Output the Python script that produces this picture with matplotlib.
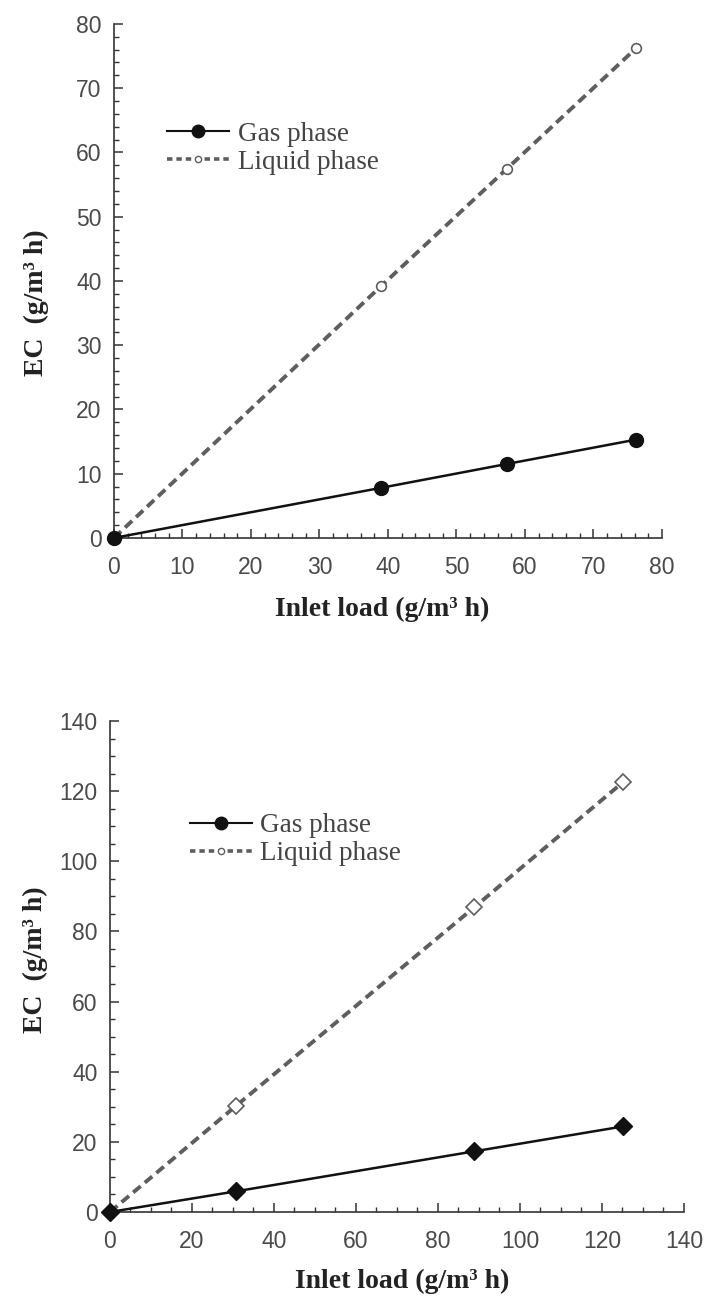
"""
Gas phase vs Liquid phase — EC against inlet load (two loading series)
"""

import matplotlib
matplotlib.use('Agg')
import matplotlib.pyplot as plt
from matplotlib.lines import Line2D
from matplotlib.ticker import MultipleLocator

# データ（上段）
TOP_INLET = [0, 39, 57.3, 76.2]
TOP_GAS_EC = [0, 7.8, 11.5, 15.3]
TOP_LIQUID_EC = [0, 39.2, 57.4, 76.2]

# データ（下段）
BOT_INLET = [0, 30.8, 88.9, 125.2]
BOT_GAS_EC = [0, 5.9, 17.3, 24.4]
BOT_LIQUID_EC = [0, 30.3, 86.9, 122.6]

LABELS = ['Gas phase', 'Liquid phase']
X_LABEL = 'Inlet load (g/m³ h)'
Y_LABEL = 'EC  (g/m³ h)'

GAS_COLOR = '#111111'
LIQUID_COLOR = '#5e5e5e'
AXIS_COLOR = '#333333'
TICK_FONT = ['Liberation Sans Narrow', 'Liberation Sans', 'DejaVu Sans']
SERIF_FONT = ['Liberation Serif', 'DejaVu Serif']


def style_axis(ax, xmax, ymax, xmajor, xminor, ymajor, yminor,
               xlab_pos, ylab_pos):
    """軸の体裁を整える"""
    ax.set_xlim(0, xmax)
    ax.set_ylim(0, ymax)
    ax.xaxis.set_major_locator(MultipleLocator(xmajor))
    ax.xaxis.set_minor_locator(MultipleLocator(xminor))
    ax.yaxis.set_major_locator(MultipleLocator(ymajor))
    ax.yaxis.set_minor_locator(MultipleLocator(yminor))
    for side in ['top', 'right']:
        ax.spines[side].set_visible(False)
    for side in ['left', 'bottom']:
        ax.spines[side].set_color(AXIS_COLOR)
        ax.spines[side].set_linewidth(1.2)
    ax.tick_params(which='major', direction='in', length=6.5, width=1.1,
                   color=AXIS_COLOR, labelsize=16.5, labelcolor='#4a4a4a')
    ax.tick_params(which='minor', direction='in', length=3.5, width=1.0,
                   color=AXIS_COLOR)
    ax.tick_params(axis='x', which='major', pad=13)
    ax.tick_params(axis='y', which='major', pad=9)
    for lab in ax.get_xticklabels() + ax.get_yticklabels():
        lab.set_family(TICK_FONT)

    ax.set_xlabel(X_LABEL, fontsize=20, fontweight='bold', family=SERIF_FONT,
                  color='#222222', va='center')
    ax.set_ylabel(Y_LABEL, fontsize=20, fontweight='bold', family=SERIF_FONT,
                  color='#222222', va='center')
    ax.xaxis.set_label_coords(*xlab_pos)
    ax.yaxis.set_label_coords(*ylab_pos)


def add_legend(ax, anchor):
    """凡例（両段とも丸マーカー）"""
    handles = [
        Line2D([], [], color=GAS_COLOR, linewidth=1.5, marker='o',
               markersize=9, markerfacecolor=GAS_COLOR),
        Line2D([], [], color=LIQUID_COLOR, linewidth=2.6, dashes=(1.5, 1.1),
               marker='o', markersize=4.5, markerfacecolor='white',
               markeredgecolor=LIQUID_COLOR, markeredgewidth=1.0),
    ]
    leg = ax.legend(handles, LABELS, loc='center left', bbox_to_anchor=anchor,
                    frameon=False, borderpad=0, borderaxespad=0,
                    labelspacing=0.1, handlelength=2.3, handletextpad=0.3,
                    prop={'family': SERIF_FONT, 'size': 19.5})
    for txt in leg.get_texts():
        txt.set_color('#444444')


def plot_panel(ax, inlet, gas, liquid, gas_marker, liq_marker, gas_ms, liq_ms):
    ax.plot(inlet, liquid, color=LIQUID_COLOR, linewidth=2.8,
            dashes=(2.5, 1.4), zorder=2, clip_on=False)
    ax.plot(inlet[1:], liquid[1:], linestyle='none', marker=liq_marker,
            markersize=liq_ms, markerfacecolor='white',
            markeredgecolor=LIQUID_COLOR, markeredgewidth=1.2, zorder=3,
            clip_on=False)
    ax.plot(inlet, gas, color=GAS_COLOR, linewidth=1.8, marker=gas_marker,
            markersize=gas_ms, markerfacecolor=GAS_COLOR,
            markeredgecolor=GAS_COLOR, zorder=4, clip_on=False)


def main() -> None:
    fig = plt.figure(figsize=(7.05, 13.0), dpi=100)

    # 上段
    ax1 = fig.add_axes([0.1617, 0.5862, 0.7773, 0.3954])
    plot_panel(ax1, TOP_INLET, TOP_GAS_EC, TOP_LIQUID_EC, 'o', 'o', 10, 7)
    style_axis(ax1, 80, 80, 10, 2, 10, 2,
               xlab_pos=(0.489, -0.14), ylab_pos=(-0.142, 0.457))
    add_legend(ax1, (0.097, 0.758))

    # 下段
    ax2 = fig.add_axes([0.156, 0.0677, 0.814, 0.3777])
    plot_panel(ax2, BOT_INLET, BOT_GAS_EC, BOT_LIQUID_EC, 'D', 'D', 9, 8.5)
    style_axis(ax2, 140, 140, 20, 5, 20, 5,
               xlab_pos=(0.509, -0.1405), ylab_pos=(-0.13, 0.513))
    add_legend(ax2, (0.139, 0.758))

    fig.savefig('out.png', dpi=100)
    plt.close(fig)


if __name__ == "__main__":
    main()
